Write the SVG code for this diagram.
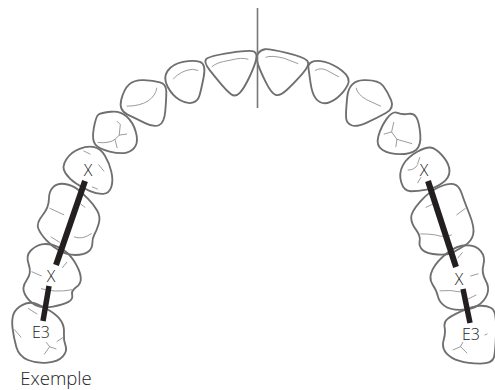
<svg xmlns="http://www.w3.org/2000/svg" width="495" height="390" viewBox="0 0 495 390">
<style>
.t{fill:none;stroke:#6f6f6f;stroke-width:1.75;stroke-linejoin:round}
.i{fill:none;stroke:#8a8a8a;stroke-width:.8;stroke-linecap:round}
.b{stroke:#231f20;stroke-linecap:butt}
text{font-family:"Open Sans","Liberation Sans",sans-serif;font-weight:300;fill:#222;text-anchor:middle}
</style>
<rect width="495" height="390" fill="#fff"/>
<g id="teeth-left">
<g id="tooth-l1" transform="translate(-13.8 -4.4) scale(1.06)"><path class="t" d="M207.5 60Q210 57 230 54Q250 51 253 53Q256 55 254.5 61Q253 67 248 77.5Q243 88 239 92Q235 96 231 93Q227 90 222 84Q217 78 211 70.5Q205 63 207.5 60Z"/><path class="i" d="M213 67Q217 63 230 61Q241 58 247 60"/></g>
<g id="tooth-l2" transform="translate(-11 -4.9) scale(1.06)"><path class="t" d="M168.5 71.5Q173 65 183 63Q193 61 199 63Q205 65 202.5 77.5Q200 90 198.5 95Q197 100 192 101.5Q187 103 180 99Q173 95 168.5 86.5Q164 78 168.5 71.5Z"/><path class="i" d="M174 79Q181 71 192 70L197 71"/></g>
<g id="tooth-l3" transform="translate(-8.6 -6.2) scale(1.06)"><path class="t" d="M122.5 100Q125 90 130 85.5Q135 81 144 81.5Q153 82 159 83.5Q165 85 165 92.5Q165 100 164 111Q163 122 158 124Q153 126 145 122Q137 118 128.5 114Q120 110 122.5 100Z"/><path class="i" d="M128 106Q140 106 148 101Q155 96 156 89"/></g>
<g id="tooth-l4" transform="translate(-6.9 -8) scale(1.06)"><path class="t" d="M95 128.5Q97 117 99.5 115.5Q102 114 111 113Q120 112 126 117.5Q132 123 134.5 131.5Q137 140 134.5 145Q132 150 126 151.5Q120 153 110 150.5Q100 148 96.5 144Q93 140 95 128.5Z"/><path class="i" d="M99 142Q110 143 115 139L117 147M115 139L119 135L126 134M119 135L120 125L117 122"/></g>
<g id="tooth-l5" transform="translate(-5.3 -10.2) scale(1.06)"><path class="t" d="M67.5 160Q72 153 80 150Q88 147 94 148.5Q100 150 104 156.5Q108 163 110 171.5Q112 180 110 186Q108 192 102.500 192.5Q97 193 90 190Q83 187 76.5 182.5Q70 178 66.5 172.5Q63 167 67.5 160Z"/><path class="i" d="M98 165L103 171M92 186L97 188M84 152L90 155"/></g>
<g id="tooth-l6" transform="translate(-4.1 -13.2) scale(1.06)"><path class="t" d="M54 189Q58 185 65 186Q72 187 77 191Q82 195 87 200Q92 205 95.5 211Q99 217 97 223.5Q95 230 93 233.5Q91 237 91 242Q91 247 87 250Q83 253 75 253Q67 253 60 249Q53 245 47.5 239Q42 233 40 228Q38 223 44 215.5Q50 208 50 200.5Q50 193 54 189Z"/><path class="i" d="M51 209L64 215M52 236L60 241M74 236Q81 239 90 233M80 205L84 208"/></g>
<g id="tooth-l7" transform="translate(-3.1 -16.6) scale(1.06)"><path class="t" d="M32 252Q37 247 43.5 246Q50 245 58.5 249Q67 253 72.5 261.5Q78 270 79 276.5Q80 283 75 286.5Q70 290 71 294Q72 298 67.5 300.5Q63 303 53 305Q43 307 36.5 303.5Q30 300 26.5 293.5Q23 287 28 280Q33 273 30 265Q27 257 32 252Z"/><path class="i" d="M33 272L42 276M42 288Q54 292 71 289M62 268L66 263"/></g>
<g id="tooth-l8" transform="translate(-2.3 -20) scale(1.06)"><path class="t" d="M15 315Q17 310 23.5 306.5Q30 303 36.5 305.5Q43 308 50 312.5Q57 317 60 322Q63 327 62.5 333.5Q62 340 64 345Q66 350 61.5 355Q57 360 47 361Q37 362 28.5 358.5Q20 355 17.5 346Q15 337 14 328.5Q13 320 15 315Z"/><path class="i" d="M29 310L37 315M16 330L22 337M44 353L49 346L55 348M49 346L46 342M56 341L62 337"/></g>
</g>
<g id="teeth-right">
<g id="tooth-r1" transform="translate(-17 -4.3) scale(1.06)"><path class="t" d="M259.5 54.5Q262 51 266 50.5Q270 50 286.5 54Q303 58 306 61.5Q309 65 301 74Q293 83 286.5 89Q280 95 276 93.5Q272 92 267 82Q262 72 259.5 65Q257 58 259.5 54.5Z"/><path class="i" d="M267 58Q272 56 284 59L297 64"/></g>
<g id="tooth-r2" transform="translate(-19.7 -4.9) scale(1.06)"><path class="t" d="M313 63Q317 61 325 63Q333 65 341.5 71.5Q350 78 346.5 85Q343 92 336.5 97Q330 102 325 102Q320 102 316.5 97.5Q313 93 311.5 82.5Q310 72 309.5 68.5Q309 65 313 63Z"/><path class="i" d="M316 71Q321 68 327 71L338 77"/></g>
<g id="tooth-r3" transform="translate(-22.2 -6.2) scale(1.06)"><path class="t" d="M364 81.5Q378 81 382.5 87Q387 93 390 100.5Q393 108 385 112.5Q377 117 367 121.5Q357 126 352.5 124Q348 122 347.5 117.5Q347 113 348.5 97.5Q350 82 364 81.5Z"/><path class="i" d="M357 89Q358 95 367 100L380 106"/></g>
<g id="tooth-r4" transform="translate(-23.9 -8) scale(1.06)"><path class="t" d="M397.5 114Q402 116 407.5 115Q413 114 415.5 118.5Q418 123 419 134Q420 145 415 149Q410 153 400 153Q390 153 383.5 149Q377 145 379.5 136Q382 127 387.5 119.5Q393 112 397.5 114Z"/><path class="i" d="M385 134L392 132L397 139L411 143M392 132L394 123M397 139L396 146"/></g>
<g id="tooth-r5" transform="translate(-25.4 -10.1) scale(1.06)"><path class="t" d="M404 165.5Q408 158 418 152.5Q428 147 433 149.5Q438 152 443 158.5Q448 165 448 171Q448 177 441.5 182Q435 187 426.5 188.5Q418 190 411.5 190Q405 190 402.5 181.5Q400 173 404 165.5Z"/><path class="i" d="M409 170Q415 170 418 165M418 182L421 177M420 158L418 164"/></g>
<g id="tooth-r6" transform="translate(-26.6 -13.1) scale(1.06)"><path class="t" d="M439 189Q448 185 453 186Q458 187 460.5 194.5Q463 202 468 214.5Q473 227 471.5 233.5Q470 240 463.5 244Q457 248 452.5 250.5Q448 253 438 252.5Q428 252 424 248.5Q420 245 421 240Q422 235 417.5 229Q413 223 413 217.5Q413 212 421.5 202.5Q430 193 439 189Z"/><path class="i" d="M427 208L435 204M422 233Q430 233 436 234Q445 237 451 234M456 215L464 209"/></g>
<g id="tooth-r7" transform="translate(-27.5 -16.6) scale(1.06)"><path class="t" d="M434 270Q438 262 447.5 254.5Q457 247 466 247Q475 247 479.5 252.5Q484 258 482 265.5Q480 273 484 280Q488 287 485.5 293.5Q483 300 476.5 304Q470 308 460 308Q450 308 445 304Q440 300 439 295Q438 290 434 284Q430 278 434 270Z"/><path class="i" d="M441 290Q452 289 460 291M467 298L475 294M458 259L462 254M470 276L477 274"/></g>
<g id="tooth-r8" transform="translate(-28.1 -20.1) scale(1.06)"><path class="t" d="M448.5 320Q452 317 462 312.5Q472 308 478.5 307.5Q485 307 490 309.5Q495 312 494.5 331Q494 350 492.5 356Q491 362 479.5 362Q468 362 460 359.5Q452 357 447.5 352Q443 347 445 340Q447 333 446 328Q445 323 448.5 320Z"/><path class="i" d="M454 349L461 346L467 352M461 346L463 342M484 335L486 334"/></g>
</g>
<g id="connectors">
<line x1="257.5" y1="8" x2="257.5" y2="108" stroke="#777" stroke-width="1.6"/>
<line class="b" x1="85" y1="181" x2="56" y2="265" stroke-width="6"/>
<line class="b" x1="49" y1="286" x2="43" y2="321" stroke-width="5.5"/>
<line class="b" x1="428" y1="181" x2="456" y2="267" stroke-width="6"/>
<line class="b" x1="463" y1="289" x2="470" y2="323" stroke-width="5.5"/>
</g>
<g id="labels">
<text x="88" y="175.500" font-size="16">X</text>
<text x="51" y="281.500" font-size="16">X</text>
<text x="41" y="337.500" font-size="16">E3</text>
<text x="424" y="175.500" font-size="16">X</text>
<text x="459" y="284.500" font-size="16">X</text>
<text x="471" y="340" font-size="16">E3</text>
<text x="56" y="385" font-size="18.500">Exemple</text>
</g>
</svg>
